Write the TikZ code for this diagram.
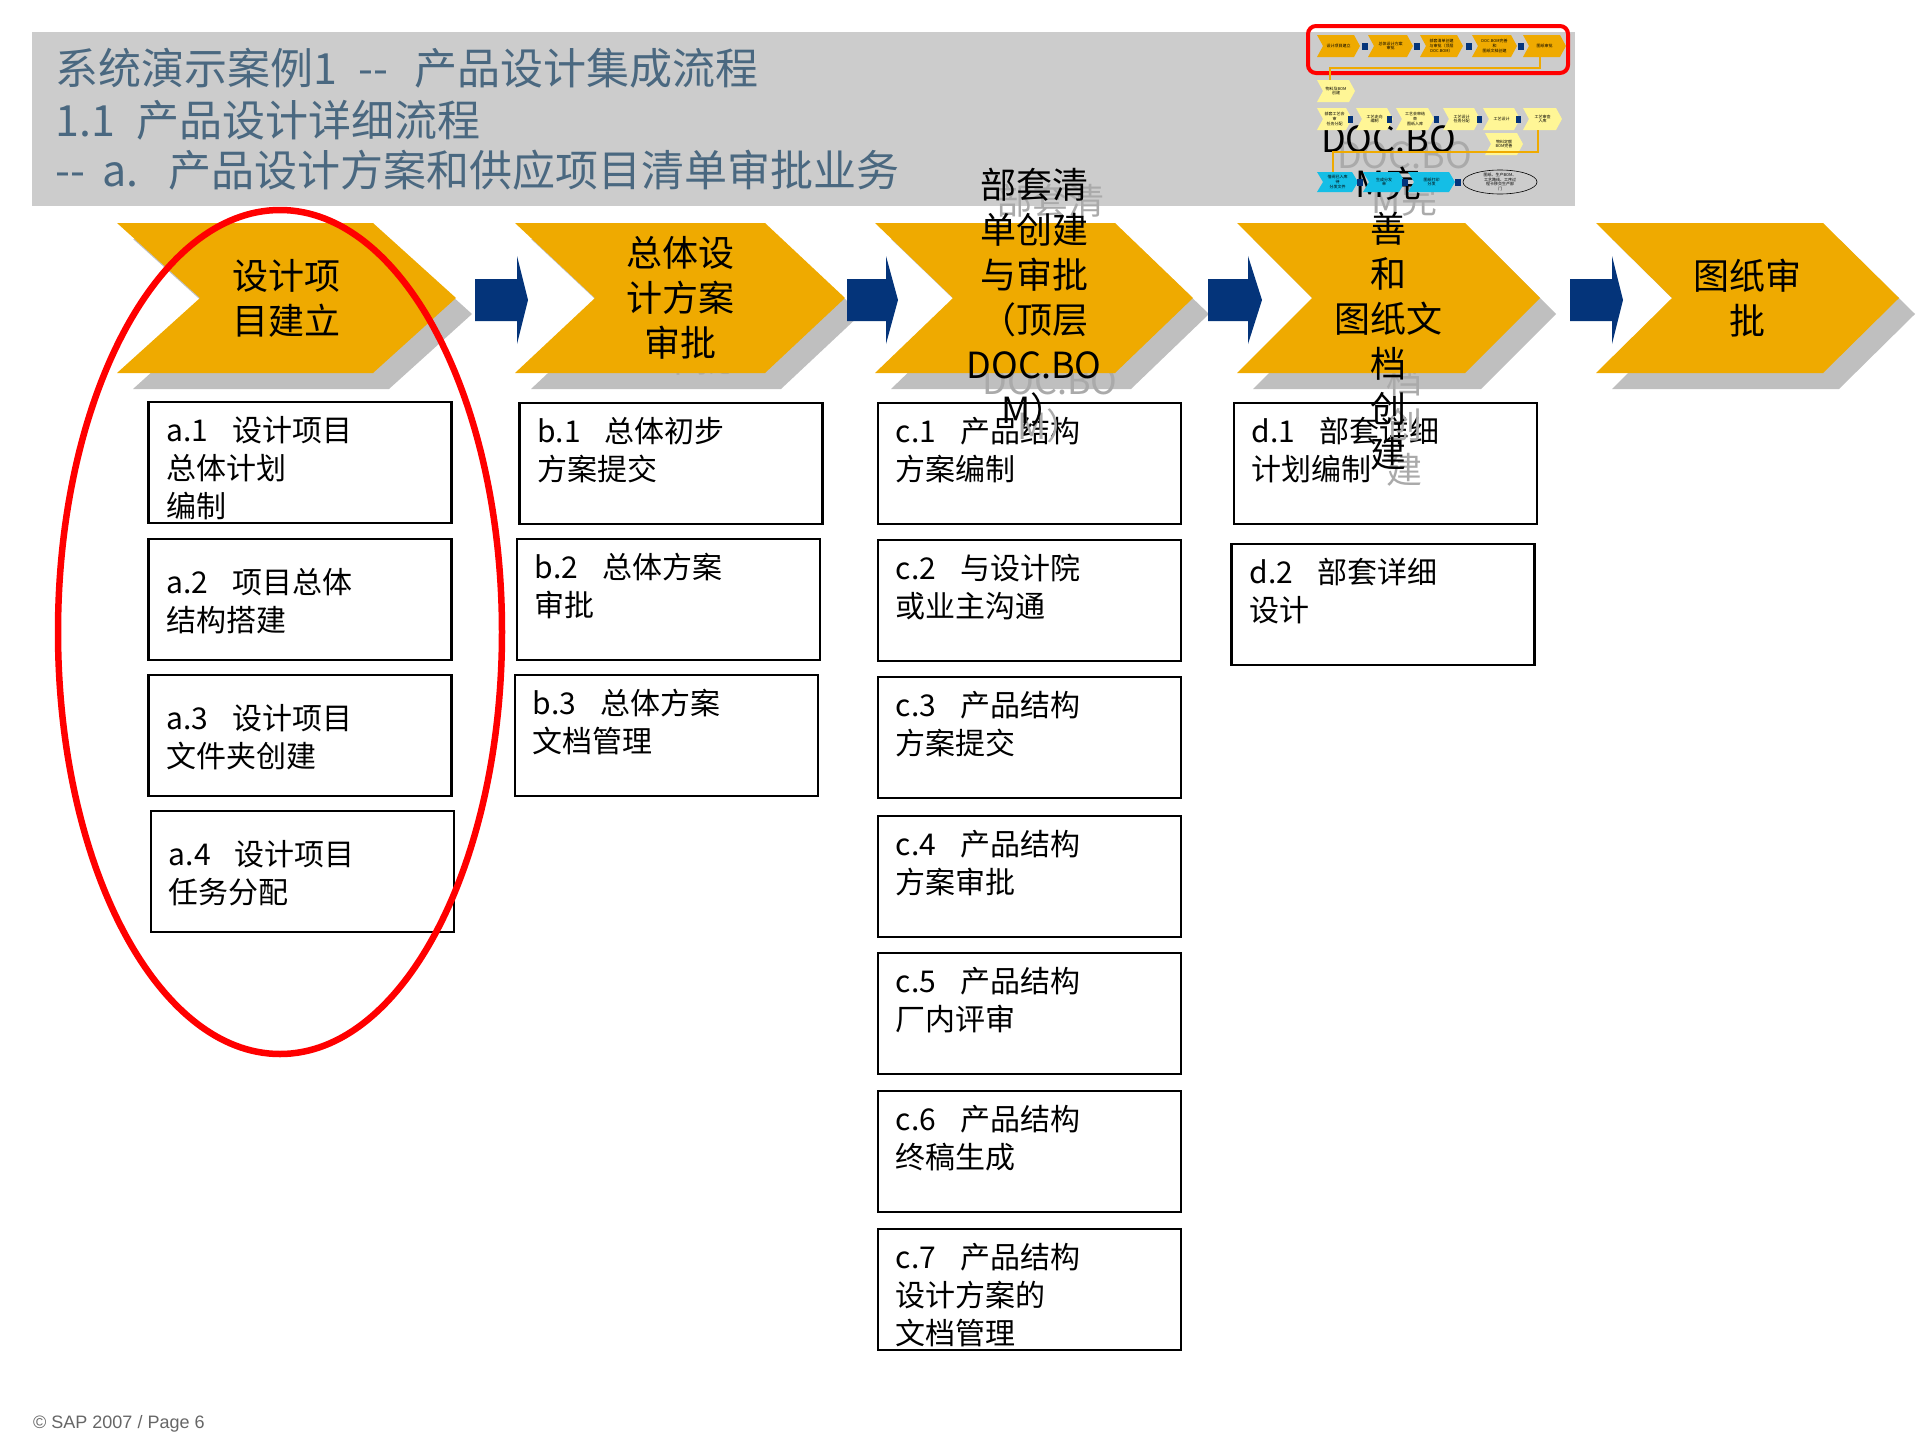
\documentclass[tikz,border=0pt]{standalone}
\usepackage{fontspec}
\setmainfont{Noto Sans CJK SC}
\newfontfamily\footfont{Liberation Sans}

\definecolor{chevorange}{RGB}{239,170,0}
\definecolor{shadowgray}{RGB}{191,191,191}
\definecolor{ghostgray}{RGB}{170,170,170}
\definecolor{bandgray}{RGB}{204,204,204}
\definecolor{titleblue}{RGB}{74,104,128}
\definecolor{arrowblue}{RGB}{4,52,122}
\definecolor{paleyellow}{RGB}{255,246,150}
\definecolor{thumbcyan}{RGB}{20,190,230}
\definecolor{footgray}{RGB}{102,102,102}

\newcommand{\chev}[3]{(#1,223) -- (#2-#3,223) -- (#2,298) -- (#2-#3,373) -- (#1,373) -- (#1+#3,298) -- cycle}
\newcommand{\bluearrow}[3]{(#1,279) -- (#2,279) -- (#2,256) -- (#3,300) -- (#2,344) -- (#2,321) -- (#1,321) -- cycle}
\newcommand{\minichev}[4]{(#1,#3) -- (#2-6,#3) -- (#2,#3/2+#4/2) -- (#2-6,#4) -- (#1,#4) -- (#1+6,#3/2+#4/2) -- cycle}
\newcommand{\gap}{\hspace{0.8em}}

\tikzset{
  chevshadow/.style={fill=shadowgray, shift={(16,16)}},
  chevbody/.style={fill=chevorange},
  chevtext/.style={font=\fontsize{36}{45}\selectfont, align=center, inner sep=0pt},
  chevghost/.style={chevtext, text=ghostgray, shift={(16,16)}},
  blockarrow/.style={fill=arrowblue},
  taskbox/.style={draw, line width=2.5pt, minimum width=303pt, minimum height=121pt, inner sep=0pt},
  tasktext/.style={font=\fontsize{30}{38}\selectfont, align=left, inner sep=0pt},
  titletext/.style={font=\fontsize{43}{51}\selectfont, text=titleblue, anchor=base west, inner sep=0pt},
  minitext/.style={font=\fontsize{4}{4.6}\selectfont, align=center, inner sep=0pt},
  miniline/.style={draw=chevorange, line width=1.2pt},
}

\begin{document}
\begin{tikzpicture}[x=1pt, y=-1pt]
    \useasboundingbox (0,0) rectangle (1920,1440);

    \fill[bandgray] (32,32) rectangle (1575,206);
    \node[titletext] (title1) at (55,84) {系统演示案例1\hspace{0.5em}-{}-\hspace{0.6em}产品设计集成流程};
    \node[titletext] (title2) at (55,136) {1.1\hspace{0.5em}产品设计详细流程};
    \node[titletext] (title3) at (55,186) {-{}-\hspace{0.4em}a.\hspace{0.7em}产品设计方案和供应项目清单审批业务};

    \node[taskbox] (a1) at (300,462.5) {};
    \node[taskbox] (a2) at (300,599.5) {};
    \node[taskbox] (a3) at (300,735.5) {};
    \node[taskbox] (a4) at (302.5,871.5) {};
    \node[taskbox] (b1) at (671,463.5) {};
    \node[taskbox] (b2) at (668.5,599.5) {};
    \node[taskbox] (b3) at (666.5,735.5) {};
    \node[taskbox] (c1) at (1029.5,463.5) {};
    \node[taskbox] (c2) at (1029.5,600.5) {};
    \node[taskbox] (c3) at (1029.5,737.5) {};
    \node[taskbox] (c4) at (1029.5,876.5) {};
    \node[taskbox] (c5) at (1029.5,1013.5) {};
    \node[taskbox] (c6) at (1029.5,1151.5) {};
    \node[taskbox] (c7) at (1029.5,1289.5) {};
    \node[taskbox] (d1) at (1385.5,463.5) {};
    \node[taskbox] (d2) at (1383,604.5) {};

    \node[tasktext, anchor=west] (a1t) at ([xshift=19pt,yshift=-6pt]a1.west) {a.1\gap 设计项目\\总体计划\\编制};
    \node[tasktext, anchor=west] (a2t) at ([xshift=19pt,yshift=-2pt]a2.west) {a.2\gap 项目总体\\结构搭建};
    \node[tasktext, anchor=west] (a3t) at ([xshift=19pt,yshift=-2pt]a3.west) {a.3\gap 设计项目\\文件夹创建};
    \node[tasktext, anchor=west] (a4t) at ([xshift=19pt,yshift=-2pt]a4.west) {a.4\gap 设计项目\\任务分配};
    \node[tasktext, anchor=north west] (b1t) at ([xshift=19pt,yshift=-15pt]b1.north west) {b.1\gap 总体初步\\方案提交};
    \node[tasktext, anchor=north west] (b2t) at ([xshift=19pt,yshift=-15pt]b2.north west) {b.2\gap 总体方案\\审批};
    \node[tasktext, anchor=north west] (b3t) at ([xshift=19pt,yshift=-15pt]b3.north west) {b.3\gap 总体方案\\文档管理};
    \node[tasktext, anchor=north west] (c1t) at ([xshift=19pt,yshift=-15pt]c1.north west) {c.1\gap 产品结构\\方案编制};
    \node[tasktext, anchor=north west] (c2t) at ([xshift=19pt,yshift=-15pt]c2.north west) {c.2\gap 与设计院\\或业主沟通};
    \node[tasktext, anchor=north west] (c3t) at ([xshift=19pt,yshift=-15pt]c3.north west) {c.3\gap 产品结构\\方案提交};
    \node[tasktext, anchor=north west] (c4t) at ([xshift=19pt,yshift=-15pt]c4.north west) {c.4\gap 产品结构\\方案审批};
    \node[tasktext, anchor=north west] (c5t) at ([xshift=19pt,yshift=-15pt]c5.north west) {c.5\gap 产品结构\\厂内评审};
    \node[tasktext, anchor=north west] (c6t) at ([xshift=19pt,yshift=-15pt]c6.north west) {c.6\gap 产品结构\\终稿生成};
    \node[tasktext, anchor=north west] (c7t) at ([xshift=19pt,yshift=-15pt]c7.north west) {c.7\gap 产品结构\\设计方案的\\文档管理};
    \node[tasktext, anchor=north west] (d1t) at ([xshift=19pt,yshift=-15pt]d1.north west) {d.1\gap 部套详细\\计划编制};
    \node[tasktext, anchor=north west] (d2t) at ([xshift=19pt,yshift=-15pt]d2.north west) {d.2\gap 部套详细\\设计};

    \fill[chevshadow] \chev{117}{456}{83};
    \fill[chevshadow] \chev{515}{845}{80};
    \fill[chevshadow] \chev{875}{1193}{78};
    \fill[chevshadow] \chev{1237}{1540}{75};
    \fill[chevshadow] \chev{1596}{1899}{76};

    \node[chevghost] (setupghost) at (286.5,298) {设计项\\目建立};
    \node[chevghost] (schemeghost) at (680,298) {总体设\\计方案\\审批};
    \node[chevghost] (bomghost) at (1034,298) {部套清\\单创建\\与审批\\（顶层\\DOC.BO\\M）};
    \node[chevghost] (docghost) at (1388.5,298) {DOC.BO\\M完\\善\\和\\图纸文\\档\\创\\建};
    \node[chevghost] (drawghost) at (1747.5,298) {图纸审\\批};

    \fill[chevbody] \chev{117}{456}{83};
    \fill[chevbody] \chev{515}{845}{80};
    \fill[chevbody] \chev{875}{1193}{78};
    \fill[chevbody] \chev{1237}{1540}{75};
    \fill[chevbody] \chev{1596}{1899}{76};

    \fill[blockarrow] \bluearrow{475}{517}{528};
    \fill[blockarrow] \bluearrow{847}{886}{898};
    \fill[blockarrow] \bluearrow{1208}{1248}{1262};
    \fill[blockarrow] \bluearrow{1570}{1612}{1623};

    \node[chevtext] (setup) at (286.5,298) {设计项\\目建立};
    \node[chevtext] (scheme) at (680,298) {总体设\\计方案\\审批};
    \node[chevtext] (bom) at (1034,298) {部套清\\单创建\\与审批\\（顶层\\DOC.BO\\M）};
    \node[chevtext] (doc) at (1388.5,298) {DOC.BO\\M完\\善\\和\\图纸文\\档\\创\\建};
    \node[chevtext] (drawapprove) at (1747.5,298) {图纸审\\批};

    \draw[red, line width=4pt, rounded corners=8pt] (1308,26) rectangle (1568,73);
    \fill[chevorange] \minichev{1317}{1360}{35}{57};
    \fill[chevorange] \minichev{1368}{1413}{35}{57};
    \fill[chevorange] \minichev{1420}{1463}{35}{57};
    \fill[chevorange] \minichev{1472}{1517}{35}{57};
    \fill[chevorange] \minichev{1523}{1566}{35}{57};
    \fill[arrowblue] (1362,43) rectangle (1368,50);
    \fill[arrowblue] (1414,43) rectangle (1420,50);
    \fill[arrowblue] (1466,43) rectangle (1472,50);
    \fill[arrowblue] (1518,43) rectangle (1524,50);
    \node[minitext] (m1) at (1338.5,46) {设计项目建立};
    \node[minitext] (m2) at (1390.5,46) {总体设计方案\\审批};
    \node[minitext] (m3) at (1441.5,46) {部套清单创建\\与审批（顶层\\DOC.BOM）};
    \node[minitext] (m4) at (1494.5,46) {DOC.BOM完善\\和\\图纸文档创建};
    \node[minitext] (m5) at (1544.5,46) {图纸审批};

    \fill[paleyellow] \minichev{1317}{1355}{80}{102};
    \fill[paleyellow] \minichev{1317}{1352}{108}{130};
    \fill[paleyellow] \minichev{1356}{1393}{108}{130};
    \fill[paleyellow] \minichev{1396}{1434}{108}{130};
    \fill[paleyellow] \minichev{1443}{1480}{108}{130};
    \fill[paleyellow] \minichev{1483}{1520}{108}{130};
    \fill[paleyellow] \minichev{1523}{1562}{108}{130};
    \fill[paleyellow] \minichev{1485}{1523}{133}{155};
    \fill[arrowblue] (1348,116) rectangle (1353,123);
    \fill[arrowblue] (1387,116) rectangle (1392,123);
    \fill[arrowblue] (1434,116) rectangle (1439,123);
    \fill[arrowblue] (1477,116) rectangle (1482,123);
    \fill[arrowblue] (1516,116) rectangle (1521,123);
    \node[minitext] (m6) at (1336,91) {物料及BOM\\创建};
    \node[minitext] (m7) at (1334.5,119) {部套工艺会\\审\\任务分配};
    \node[minitext] (m8) at (1374.5,119) {工艺走向\\编制};
    \node[minitext] (m9) at (1415,119) {工艺会审结\\束\\图纸入库};
    \node[minitext] (m10) at (1461.5,119) {工艺设计\\任务分配};
    \node[minitext] (m11) at (1501.5,119) {工艺设计};
    \node[minitext] (m12) at (1542.5,119) {工艺审查\\入库};
    \node[minitext] (m13) at (1504,144) {物料定额\\BOM完善};

    \fill[thumbcyan] \minichev{1317}{1358}{172}{192};
    \fill[thumbcyan] \minichev{1363}{1405}{172}{192};
    \fill[thumbcyan] \minichev{1408}{1455}{172}{192};
    \fill[arrowblue] (1357,179) rectangle (1363,186);
    \fill[arrowblue] (1402,179) rectangle (1408,186);
    \fill[arrowblue] (1455,179) rectangle (1461,186);
    \node[minitext] (m14) at (1337.5,182) {借阅已入库\\待\\分发文件};
    \node[minitext] (m15) at (1384,182) {生成分发\\单};
    \node[minitext] (m16) at (1431.5,182) {图纸打印\\分发};
    \node[minitext] (handoff) at (1500,182) {图纸、生产BOM、\\工艺路线、工序过\\程卡移交生产部\\门};
    \draw[line width=0.6pt] (handoff) ellipse [x radius=37pt, y radius=12pt];

    \coordinate (m5foot) at (1540,57);
    \coordinate (m6top) at (1330,80);
    \coordinate (m12foot) at (1538,130);
    \coordinate (m14top) at (1333,172);
    \draw[miniline] (m5foot) -- ++(0,11) -| (m6top);
    \draw[miniline] (m12foot) -- ++(0,22) -| (m14top);

    \draw[red, line width=6.5pt] (280,632) ellipse [x radius=222pt, y radius=422pt];

    \node[font=\footfont\fontsize{18}{20}\selectfont, text=footgray, anchor=base west, inner sep=0pt] (footer) at (33,1428) {© SAP 2007 / Page 6};
\end{tikzpicture}
\end{document}
